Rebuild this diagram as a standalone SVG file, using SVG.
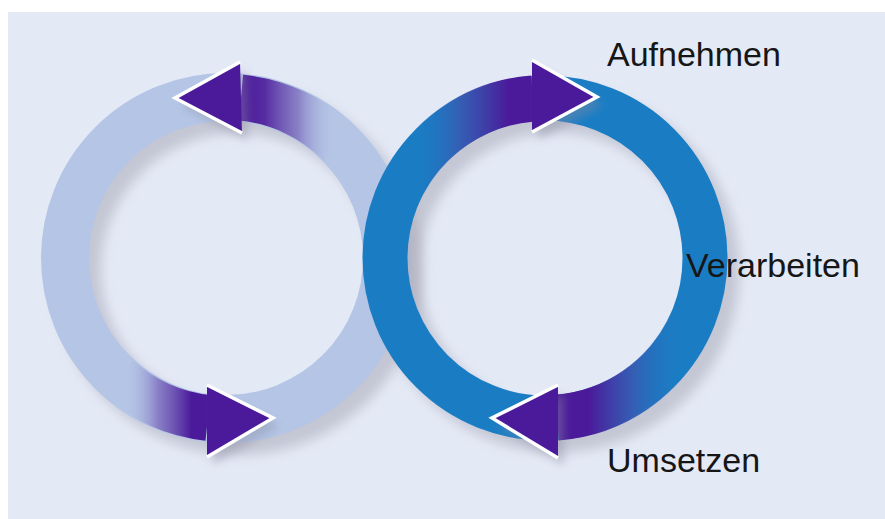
<svg xmlns="http://www.w3.org/2000/svg" width="885" height="519" viewBox="0 0 885 519">
<defs>
<style>
.lbl{font-family:"Liberation Sans",Arial,sans-serif;font-size:34px;fill:#161616}
.ring{fill:none}
.shaft{fill:none;stroke-width:46}
.head{fill:#4b1a9a}
.edge{fill:none;stroke:#ffffff;stroke-width:3.5;stroke-linejoin:miter}
</style>
<filter id="blur" x="-20%" y="-20%" width="140%" height="140%"><feGaussianBlur stdDeviation="6"/></filter>
<filter id="hblur" x="-50%" y="-50%" width="200%" height="200%"><feGaussianBlur stdDeviation="4"/></filter>
<linearGradient id="gLT" gradientUnits="userSpaceOnUse" x1="241" y1="0" x2="335" y2="0">
<stop offset="0" stop-color="#4b1a9a"/><stop offset="0.25" stop-color="#4b1a9a" stop-opacity="0.9"/><stop offset="0.6" stop-color="#6a4fb0" stop-opacity="0.6"/><stop offset="1" stop-color="#b4c5e6" stop-opacity="0"/>
</linearGradient>
<linearGradient id="gLB" gradientUnits="userSpaceOnUse" x1="125" y1="0" x2="208" y2="0">
<stop offset="0" stop-color="#b4c5e6" stop-opacity="0"/><stop offset="0.4" stop-color="#6a4fb0" stop-opacity="0.6"/><stop offset="0.8" stop-color="#4b1a9a"/><stop offset="1" stop-color="#4b1a9a"/>
</linearGradient>
<linearGradient id="gRT" gradientUnits="userSpaceOnUse" x1="410" y1="0" x2="533" y2="0">
<stop offset="0" stop-color="#1a7dc4" stop-opacity="0"/><stop offset="0.4" stop-color="#3a57b0" stop-opacity="0.8"/><stop offset="0.8" stop-color="#4b1a9a"/><stop offset="1" stop-color="#4b1a9a"/>
</linearGradient>
<linearGradient id="gRB" gradientUnits="userSpaceOnUse" x1="557" y1="0" x2="685" y2="0">
<stop offset="0" stop-color="#4b1a9a"/><stop offset="0.25" stop-color="#4b1a9a"/><stop offset="0.6" stop-color="#3a57b0" stop-opacity="0.8"/><stop offset="1" stop-color="#1a7dc4" stop-opacity="0"/>
</linearGradient>
</defs>
<rect x="0" y="0" width="885" height="519" fill="#ffffff"/>
<rect x="8" y="12" width="877" height="507" fill="#e4e9f6"/>

<g id="ring-left">
<circle class="ring" cx="238" cy="270" r="161" stroke="#a9aab8" stroke-opacity="0.55" stroke-width="48" filter="url(#blur)"/>
<circle class="ring" cx="226" cy="258" r="161" stroke="#b4c5e6" stroke-width="48"/>
</g>

<g id="ring-right">
<circle class="ring" cx="557" cy="270" r="160" stroke="#a9aab8" stroke-opacity="0.55" stroke-width="45" filter="url(#blur)"/>
<circle class="ring" cx="545" cy="258" r="160" stroke="#1a7dc4" stroke-width="45"/>
</g>

<g id="connectors">
<path class="shaft" d="M 241 97.7 A 161 161 0 0 1 340 144.3" stroke="url(#gLT)"/>
<polygon points="175,98 240,62 242,133" fill="#8a8ca0" opacity="0.4" transform="translate(6,8)" filter="url(#hblur)"/>
<polygon class="head" points="175,98 240,62 242,133"/>
<path class="edge" d="M 240 62 L 175 98 L 242 133"/>
<path class="shaft" d="M 118 377.5 A 161 161 0 0 0 208 417.9" stroke="url(#gLB)"/>
<polygon points="273,418 207,385 207,457" fill="#8a8ca0" opacity="0.4" transform="translate(6,8)" filter="url(#hblur)"/>
<polygon class="head" points="273,418 207,385 207,457"/>
<path class="edge" d="M 207 385 L 273 418 L 207 457"/>
<path class="shaft" d="M 400 190.4 A 160 160 0 0 1 533 98.5" stroke="url(#gRT)"/>
<polygon points="597,97 532,60 532,132" fill="#8a8ca0" opacity="0.4" transform="translate(6,8)" filter="url(#hblur)"/>
<polygon class="head" points="597,97 532,60 532,132"/>
<path class="edge" d="M 532 60 L 597 97 L 532 132"/>
<path class="shaft" d="M 557 417.5 A 160 160 0 0 0 690 325.6" stroke="url(#gRB)"/>
<polygon points="492,418 558,385 558,458" fill="#8a8ca0" opacity="0.4" transform="translate(6,8)" filter="url(#hblur)"/>
<polygon class="head" points="492,418 558,385 558,458"/>
<path class="edge" d="M 558 385 L 492 418 L 558 458"/>
</g>

<g id="label-aufnehmen"><text class="lbl" x="607" y="66">Aufnehmen</text></g>
<g id="label-verarbeiten"><text class="lbl" x="686" y="277">Verarbeiten</text></g>
<g id="label-umsetzen"><text class="lbl" x="607" y="472">Umsetzen</text></g>
</svg>
